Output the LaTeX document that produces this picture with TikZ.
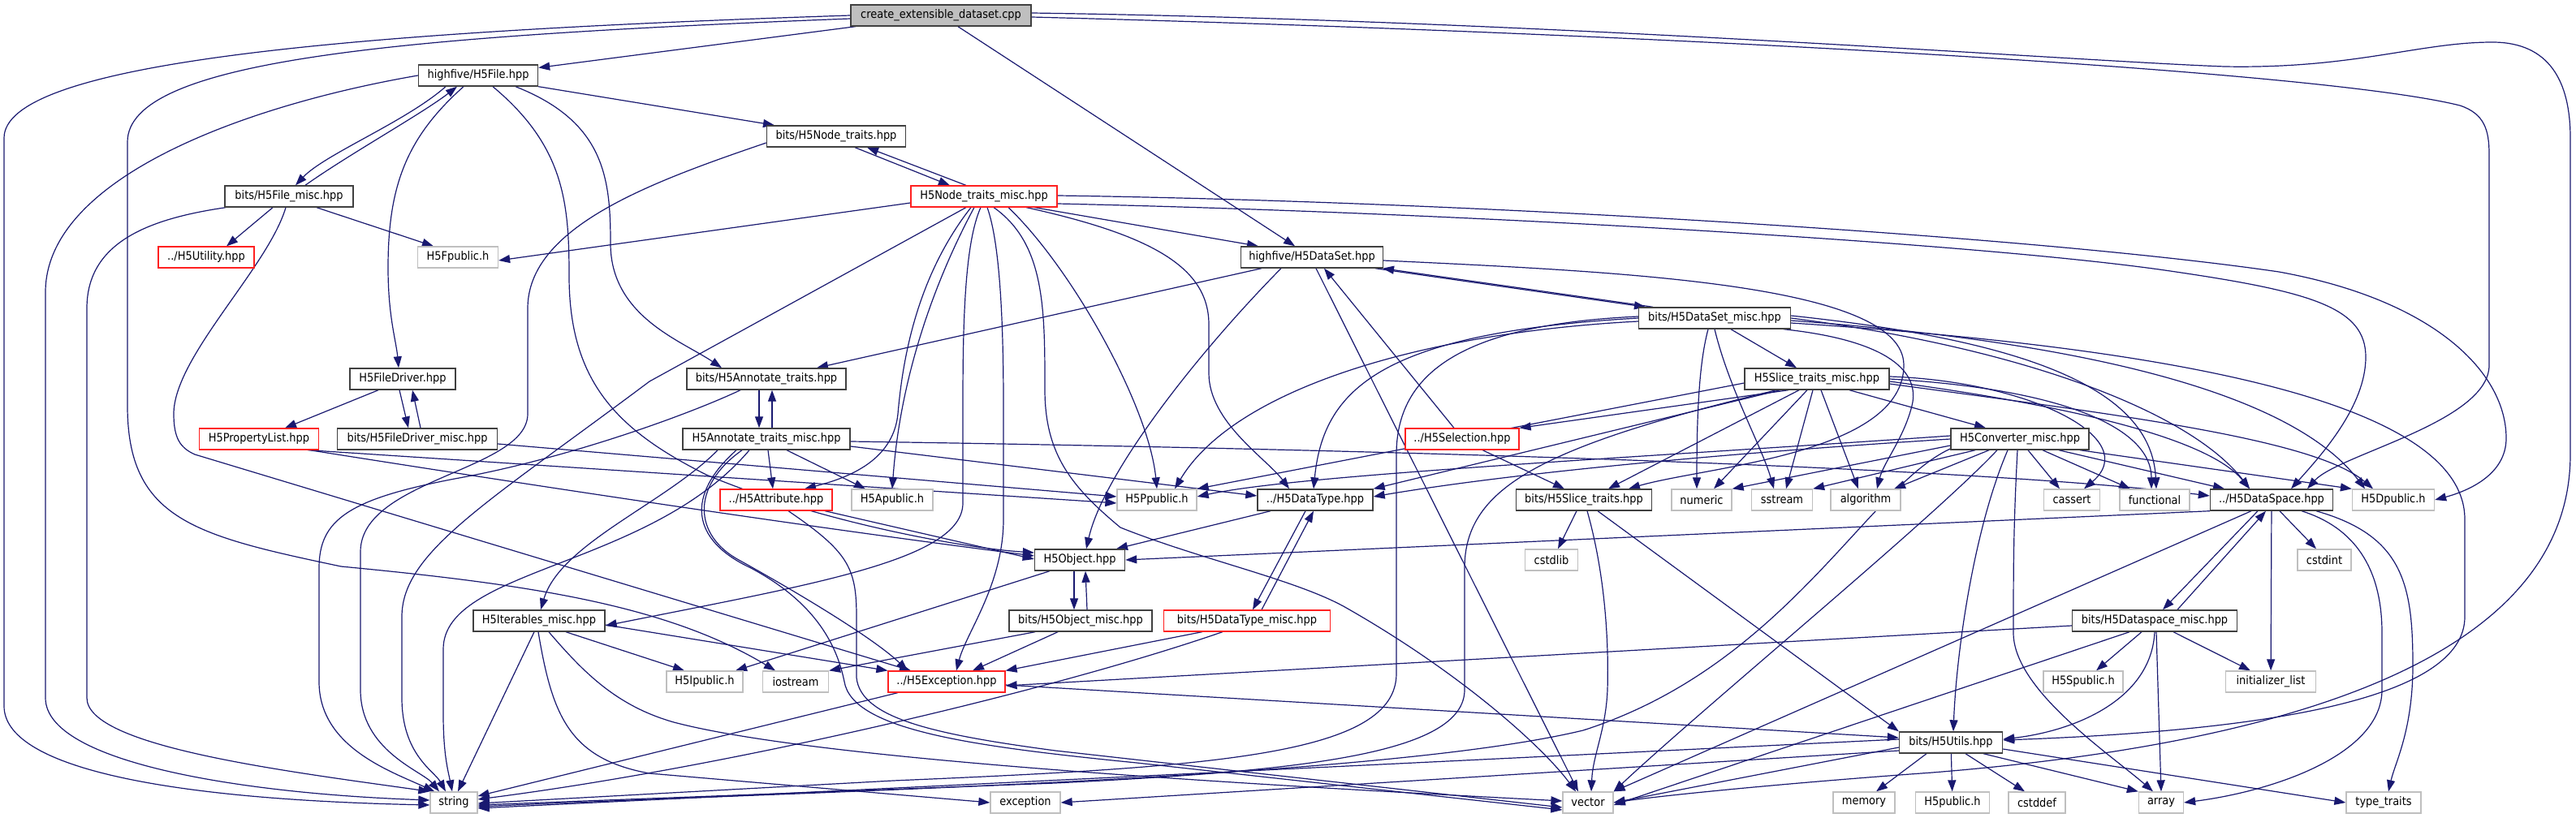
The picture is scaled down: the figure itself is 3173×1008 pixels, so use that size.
\documentclass[tikz,border=0pt]{standalone}
\usepackage{fontspec}
\setmainfont{DejaVu Sans}[FakeStretch=0.9]
\usetikzlibrary{arrows.meta,backgrounds}
\definecolor{edgec}{HTML}{191970}
\definecolor{gtf}{HTML}{404040}
\definecolor{gsf}{HTML}{BFBFBF}
\definecolor{redb}{HTML}{FF2020}
\newcommand{\nodefont}{\fontsize{14.4pt}{17pt}\selectfont}
\tikzset{
 nb/.style={draw=gtf, line width=1.4pt, fill=white, minimum height=26pt, inner sep=0pt, font=\nodefont, text=black},
 nr/.style={nb, draw=redb, line width=1.2pt},
 ng/.style={nb, draw=gsf, line width=1.3pt},
 nroot/.style={nb, fill=gsf},
 edg/.style={draw=edgec, line width=1.2pt, -{Triangle[length=14pt,width=10pt]}},
}
\begin{document}
\begin{tikzpicture}[x=1pt,y=-1pt]
\useasboundingbox (0,0) rectangle (3173,1008);
% nodes
\node[nroot, minimum width=222pt] (root) at (1159,19) {create\_extensible\_dataset.cpp};
\node[nb, minimum width=147pt] (file) at (589,93) {highfive/H5File.hpp};
\node[nb, minimum width=171pt] (nodetr) at (1030,168) {bits/H5Node\_traits.hpp};
\node[nb, minimum width=158pt] (filemisc) at (356,242) {bits/H5File\_misc.hpp};
\node[nr, minimum width=180pt] (nodemisc) at (1212,242) {H5Node\_traits\_misc.hpp};
\node[nr, minimum width=118pt] (util) at (254,317) {../H5Utility.hpp};
\node[ng, minimum width=99pt] (fpub) at (564,317) {H5Fpublic.h};
\node[nb, minimum width=175pt] (dataset) at (1616,317) {highfive/H5DataSet.hpp};
\node[nb, minimum width=187pt] (dsmisc) at (2112,392) {bits/H5DataSet\_misc.hpp};
\node[nb, minimum width=130pt] (fdriver) at (496,467) {H5FileDriver.hpp};
\node[nb, minimum width=196pt] (annot) at (944,467) {bits/H5Annotate\_traits.hpp};
\node[nb, minimum width=178pt] (slicemisc) at (2238,467) {H5Slice\_traits\_misc.hpp};
\node[nr, minimum width=147pt] (plist) at (319,541) {H5PropertyList.hpp};
\node[nb, minimum width=197pt] (fdmisc) at (514,541) {bits/H5FileDriver\_misc.hpp};
\node[nb, minimum width=206pt] (annotmisc) at (944,541) {H5Annotate\_traits\_misc.hpp};
\node[nr, minimum width=140pt] (selection) at (1801,541) {../H5Selection.hpp};
\node[nb, minimum width=170pt] (conv) at (2488,541) {H5Converter\_misc.hpp};
\node[nr, minimum width=138pt] (attr) at (956,616) {../H5Attribute.hpp};
\node[ng, minimum width=100pt] (apub) at (1099,616) {H5Apublic.h};
\node[ng, minimum width=98pt] (ppub) at (1425,616) {H5Ppublic.h};
\node[nb, minimum width=142pt] (dtype) at (1620,616) {../H5DataType.hpp};
\node[nb, minimum width=167pt] (slice) at (1951,616) {bits/H5Slice\_traits.hpp};
\node[ng, minimum width=74pt] (numeric) at (2096,616) {numeric};
\node[ng, minimum width=75pt] (sstream) at (2195,616) {sstream};
\node[ng, minimum width=86pt] (algorithm) at (2298,616) {algorithm};
\node[ng, minimum width=69pt] (cassert) at (2552,616) {cassert};
\node[ng, minimum width=86pt] (functional) at (2654,616) {functional};
\node[nb, minimum width=151pt] (dspace) at (2798,616) {../H5DataSpace.hpp};
\node[ng, minimum width=101pt] (dpub) at (2948,616) {H5Dpublic.h};
\node[nb, minimum width=111pt] (object) at (1330,690) {H5Object.hpp};
\node[ng, minimum width=65pt] (cstdlib) at (1911,690) {cstdlib};
\node[ng, minimum width=66pt] (cstdint) at (2863,690) {cstdint};
\node[nb, minimum width=162pt] (iter) at (664,765) {H5Iterables\_misc.hpp};
\node[nb, minimum width=176pt] (objmisc) at (1331,765) {bits/H5Object\_misc.hpp};
\node[nr, minimum width=205pt] (dtmisc) at (1536,765) {bits/H5DataType\_misc.hpp};
\node[nb, minimum width=203pt] (spmisc) at (2654,765) {bits/H5Dataspace\_misc.hpp};
\node[ng, minimum width=94pt] (ipub) at (868,840) {H5Ipublic.h};
\node[ng, minimum width=81pt] (iostream) at (980,840) {iostream};
\node[nr, minimum width=144pt] (exc) at (1166,840) {../H5Exception.hpp};
\node[ng, minimum width=98pt] (spub) at (2566,840) {H5Spublic.h};
\node[ng, minimum width=111pt] (initlist) at (2797,840) {initializer\_list};
\node[nb, minimum width=127pt] (utils) at (2403,915) {bits/H5Utils.hpp};
\node[ng, minimum width=58pt] (string) at (559,989) {string};
\node[ng, minimum width=86pt] (exception) at (1263,989) {exception};
\node[ng, minimum width=62pt] (vector) at (1956,989) {vector};
\node[ng, minimum width=76pt] (memory) at (2296,989) {memory};
\node[ng, minimum width=91pt] (h5pub) at (2405,989) {H5public.h};
\node[ng, minimum width=70pt] (cstddef) at (2509,989) {cstddef};
\node[ng, minimum width=55pt] (array) at (2662,989) {array};
\node[ng, minimum width=92pt] (typetraits) at (2936,989) {type\_traits};

\begin{scope}[on background layer]
\fill[white] (0,0) rectangle (3173,1008);
% root
\draw[edg] (root) -- (file);
\draw[edg] (root) -- (dataset);
\draw[edg] (root.west) .. controls (400,40) and (5,80) .. (5,170) -- (5,870) .. controls (5,945) and (200,985) .. ([yshift=-3]string.west);
\draw[edg] ([yshift=-4]root.west) .. controls (480,45) and (157,75) .. (157,175) -- (157,500) .. controls (157,640) and (240,660) .. (420,698) .. controls (650,720) and (820,745) .. ([xshift=-25]iostream.north);
\draw[edg] ([yshift=-2]root.east) .. controls (2000,40) and (2850,85) .. (3030,130) .. controls (3060,140) and (3066,160) .. (3066,190) -- (3066,450) .. controls (3066,520) and (2880,560) .. ([xshift=44]dspace.north);
\draw[edg] ([yshift=3]root.east) .. controls (1900,25) and (2550,75) .. (2740,82) .. controls (2900,85) and (2980,52) .. (3070,52) .. controls (3140,52) and (3166,100) .. (3166,170) -- (3166,560) .. controls (3166,780) and (2900,910) .. (2380,952) .. controls (2200,965) and (2050,980) .. (vector.east);
% file
\draw[edg] ([xshift=-40]file.south) .. controls (500,150) and (400,190) .. ([xshift=8]filemisc.north);
\draw[edg] ([xshift=20]filemisc.north) .. controls (430,190) and (520,140) .. ([xshift=-26]file.south);
\draw[edg] (file.south east) -- ([xshift=-76]nodetr.north);
\draw[edg] ([xshift=46]file.south) .. controls (745,150) and (752,220) .. (752,300) .. controls (752,390) and (840,420) .. ([xshift=-55]annot.north);
\draw[edg] ([xshift=-18]file.south) .. controls (500,170) and (478,230) .. (478,330) .. controls (478,390) and (488,420) .. ([xshift=-5]fdriver.north);
\draw[edg] ([xshift=18]file.south) .. controls (695,180) and (701,250) .. (701,340) .. controls (701,470) and (760,530) .. (870,585) .. controls (1000,640) and (1180,675) .. ([yshift=9]object.west);
\draw[edg] (file.west) .. controls (300,130) and (56,220) .. (56,360) -- (56,860) .. controls (56,940) and (300,978) .. ([yshift=3]string.west);
% filemisc
\draw[edg] ([xshift=-78]filemisc.south) .. controls (180,270) and (107,300) .. (107,380) -- (107,860) .. controls (107,920) and (350,950) .. (string.north west);
\draw[edg] ([xshift=-20]filemisc.south) -- ([xshift=25]util.north);
\draw[edg] ([xshift=34]filemisc.south) -- ([xshift=-30]fpub.north);
\draw[edg] ([xshift=-4]filemisc.south) .. controls (330,330) and (214,440) .. (214,510) .. controls (214,540) and (222,552) .. (240,560) -- ([xshift=-44]exc.north);
% nodetr
\draw[edg] ([xshift=23]nodetr.south) -- ([xshift=-42]nodemisc.north);
\draw[edg] ([xshift=-22]nodemisc.north) -- ([xshift=38]nodetr.south);
\draw[edg] ([yshift=-8]nodetr.west) .. controls (800,225) and (650,280) .. (650,380) -- (650,510) .. controls (650,580) and (444,590) .. (444,680) -- (444,850) .. controls (444,925) and (520,950) .. ([xshift=-18]string.north);
% nodemisc
\draw[edg] ([yshift=-8]nodemisc.west) -- ([yshift=-4]fpub.east);
\draw[edg] ([xshift=62]nodemisc.south) -- ([xshift=-66]dataset.north);
\draw[edg] ([yshift=1]nodemisc.east) .. controls (1800,248) and (2500,290) .. (2807,335) .. controls (3000,370) and (3087,460) .. (3087,540) .. controls (3087,585) and (3040,605) .. (dpub.east);
\draw[edg] ([yshift=-9]nodemisc.east) .. controls (1800,262) and (2450,300) .. (2680,335) .. controls (2850,360) and (2914,380) .. (2914,440) .. controls (2914,500) and (2860,560) .. ([xshift=24]dspace.north);
\draw[edg] ([xshift=52]nodemisc.south) .. controls (1420,290) and (1489,330) .. (1489,400) -- (1489,460) .. controls (1489,520) and (1560,565) .. ([xshift=-32]dtype.north);
\draw[edg] ([xshift=30]nodemisc.south) .. controls (1320,330) and (1415,500) .. (ppub.north);
\draw[edg] ([xshift=12]nodemisc.south) .. controls (1287,300) and (1287,380) .. (1287,480) .. controls (1287,560) and (1320,600) .. (1380,650) .. controls (1480,690) and (1600,715) .. (1660,750) .. controls (1800,830) and (1900,920) .. ([xshift=-15]vector.north);
\draw[edg] ([xshift=4]nodemisc.south) .. controls (1232,300) and (1236,400) .. (1236,500) -- (1236,640) .. controls (1236,720) and (1190,780) .. ([xshift=12]exc.north);
\draw[edg] ([xshift=-4]nodemisc.south) .. controls (1188,300) and (1186,400) .. (1186,500) -- (1186,620) .. controls (1186,690) and (1000,720) .. ([yshift=-6]iter.east);
\draw[edg] ([xshift=-12]nodemisc.south) .. controls (1160,330) and (1110,450) .. (apub.north);
\draw[edg] ([xshift=-16]nodemisc.south) .. controls (1130,340) and (1112,440) .. (1106,510) .. controls (1100,570) and (1040,590) .. ([xshift=35]attr.north);
\draw[edg] ([xshift=-22]nodemisc.south) -- (800,470) .. controls (600,620) and (495,680) .. (495,760) -- (495,860) .. controls (495,930) and (535,950) .. ([xshift=-10]string.north);
% dataset
\draw[edg] ([xshift=-62]dataset.south) -- ([xshift=62]annot.north);
\draw[edg] ([xshift=-38]dataset.south) .. controls (1480,430) and (1360,580) .. ([xshift=8]object.north);
\draw[edg] ([xshift=5]dataset.south) -- ([xshift=-12]vector.north);
\draw[edg] ([xshift=78]dataset.south) -- ([xshift=-85]dsmisc.north);
\draw[edg] ([xshift=-76]dsmisc.north) -- ([xshift=87]dataset.south);
\draw[edg] ([yshift=-4]dataset.east) .. controls (2000,335) and (2345,350) .. (2345,450) .. controls (2345,560) and (2100,575) .. ([xshift=55]slice.north);
% dsmisc
\draw[edg] ([xshift=20]dsmisc.south) -- ([xshift=-25]slicemisc.north);
\draw[edg] ([xshift=-8]dsmisc.south) .. controls (2092,450) and (2090,520) .. ([xshift=-6]numeric.north);
\draw[edg] (dsmisc.south) .. controls (2130,480) and (2170,550) .. ([xshift=-10]sstream.north);
\draw[edg] ([xshift=85]dsmisc.south) .. controls (2330,420) and (2365,460) .. (2355,500) .. controls (2345,540) and (2320,570) .. ([xshift=14]algorithm.north);
\draw[edg] (dsmisc.west) .. controls (1700,410) and (1630,480) .. ([xshift=-2]dtype.north);
\draw[edg] ([yshift=-4]dsmisc.west) .. controls (1750,410) and (1520,480) .. ([xshift=22]ppub.north);
\draw[edg] ([yshift=2]dsmisc.west) .. controls (1800,400) and (1720,460) .. (1720,560) -- (1720,830) .. controls (1720,930) and (1500,945) .. (1100,962) -- ([yshift=-1]string.east);
\draw[edg] ([yshift=3]dsmisc.east) .. controls (2500,420) and (2650,480) .. ([xshift=2]functional.north);
\draw[edg] (dsmisc.east) .. controls (2500,430) and (2700,510) .. ([xshift=-27]dspace.north);
\draw[edg] ([yshift=-3]dsmisc.east) .. controls (2550,420) and (2820,480) .. ([xshift=-35]dpub.north);
\draw[edg] ([yshift=-6]dsmisc.east) .. controls (2700,430) and (3036,500) .. (3036,640) -- (3036,760) .. controls (3036,860) and (2800,900) .. ([yshift=3]utils.east);
% slicemisc
\draw[edg] ([yshift=-5]slicemisc.west) -- (ppub.north east);
\draw[edg] ([xshift=-45]slicemisc.south) -- (dtype.north east);
\draw[edg] ([xshift=-35]slicemisc.south) -- (selection.north east);
\draw[edg] ([xshift=-22]slicemisc.south) -- ([xshift=30]slice.north);
\draw[edg] ([xshift=-12]slicemisc.south) -- ([xshift=15]numeric.north);
\draw[edg] ([xshift=-5]slicemisc.south) -- ([xshift=5]sstream.north);
\draw[edg] ([xshift=5]slicemisc.south) -- ([xshift=-9]algorithm.north);
\draw[edg] ([xshift=40]slicemisc.south) -- ([xshift=-42]conv.north);
\draw[edg] ([yshift=3]slicemisc.east) .. controls (2500,470) and (2640,540) .. ([xshift=15]cassert.north);
\draw[edg] (slicemisc.east) .. controls (2550,480) and (2650,530) .. ([xshift=-4]functional.north);
\draw[edg] ([yshift=-3]slicemisc.east) .. controls (2550,500) and (2720,540) .. ([xshift=-27]dspace.north);
\draw[edg] ([yshift=-6]slicemisc.east) .. controls (2600,510) and (2850,540) .. ([xshift=-25]dpub.north);
\draw[edg] ([xshift=-50]slicemisc.south) .. controls (1900,550) and (1804,600) .. (1804,700) -- (1804,850) .. controls (1804,930) and (1600,950) .. (1300,965) -- ([yshift=-3]string.east);
% conv
\draw[edg] ([yshift=4]conv.west) .. controls (2000,565) and (1600,585) .. ([yshift=4]ppub.east);
\draw[edg] (conv.west) .. controls (2100,560) and (1850,585) .. ([yshift=4]dtype.east);
\draw[edg] ([yshift=-8]conv.west) -- (numeric.north east);
\draw[edg] ([xshift=-55]conv.south) -- (sstream.north east);
\draw[edg] ([xshift=-38]conv.south) -- ([xshift=35]algorithm.north);
\draw[edg] ([xshift=-28]conv.south) .. controls (2380,640) and (2100,870) .. (vector.north east);
\draw[edg] ([yshift=-12]conv.west) .. controls (2300,600) and (2200,820) .. (1950,900) .. controls (1700,960) and (1000,975) .. ([yshift=-5]string.east);
\draw[edg] ([xshift=-15]conv.south) .. controls (2432,650) and (2410,800) .. ([xshift=3]utils.north);
\draw[edg] ([xshift=-3]conv.south) .. controls (2480,650) and (2480,700) .. (2480,780) .. controls (2480,850) and (2600,930) .. ([xshift=-10]array.north);
\draw[edg] ([xshift=10]conv.south) -- ([xshift=-15]cassert.north);
\draw[edg] ([xshift=28]conv.south) -- ([xshift=-30]functional.north);
\draw[edg] ([xshift=48]conv.south) -- ([xshift=-58]dspace.north);
\draw[edg] ([xshift=74]conv.south) -- (dpub.north west);
% dspace
\draw[edg] (dspace.south west) -- (object.east);
\draw[edg] ([xshift=-25]dspace.south) -- (vector.north east);
\draw[edg] ([xshift=-17]dspace.south) -- ([xshift=10]spmisc.north);
\draw[edg] ([xshift=28]spmisc.north) -- ([xshift=-7]dspace.south);
\draw[edg] (dspace) -- (initlist);
\draw[edg] ([xshift=10]dspace.south) -- ([xshift=-10]cstdint.north);
\draw[edg] ([xshift=37]dspace.south) .. controls (2900,650) and (2934,700) .. (2934,780) -- (2934,850) .. controls (2934,930) and (2800,975) .. (array.east);
\draw[edg] ([xshift=55]dspace.south) .. controls (2960,660) and (2972,720) .. (2972,820) .. controls (2972,900) and (2950,940) .. ([xshift=6]typetraits.north);
% spmisc
\draw[edg] ([yshift=-6]spmisc.west) -- ([yshift=-5]exc.east);
\draw[edg] ([xshift=-31]spmisc.south) -- ([yshift=-3]vector.east);
\draw[edg] ([xshift=-16]spmisc.south) -- ([xshift=16]spub.north);
\draw[edg] (spmisc.south) .. controls (2650,860) and (2560,900) .. ([yshift=4]utils.east);
\draw[edg] ([xshift=2]spmisc.south) -- (array.north);
\draw[edg] ([xshift=23]spmisc.south) -- ([xshift=-25]initlist.north);
% utils
\draw[edg] (utils) -- (h5pub);
\draw[edg] ([xshift=18]utils.south) -- ([xshift=-15]cstddef.north);
\draw[edg] ([xshift=40]utils.south) -- (array.north west);
\draw[edg] ([yshift=-8]utils.east) -- (typetraits.west);
\draw[edg] ([xshift=-30]utils.south) -- ([xshift=15]memory.north);
\draw[edg] ([yshift=-6]utils.west) -- (vector.east);
\draw[edg] ([yshift=4]utils.west) -- ([yshift=-7]string.east);
\draw[edg] ([yshift=-10]utils.west) -- (exception.east);
% exc
\draw[edg] ([xshift=-60]exc.south) -- ([yshift=8]string.east);
\draw[edg] ([yshift=-4]exc.east) -- ([yshift=6]utils.west);
% dtype / dtmisc
\draw[edg] ([xshift=-12]dtype.south) -- ([xshift=7]dtmisc.north);
\draw[edg] ([xshift=18]dtmisc.north) -- ([xshift=-2]dtype.south);
\draw[edg] ([xshift=-55]dtmisc.south) -- (exc.north east);
\draw[edg] ([xshift=-30]dtmisc.south) .. controls (1300,850) and (900,945) .. ([yshift=4]string.east);
\draw[edg] ([xshift=-55]dtype.south) -- ([xshift=45]object.north);
% object
\draw[edg] ([xshift=-7]object.south) -- ([xshift=-8]objmisc.north);
\draw[edg] ([xshift=8]objmisc.north) -- ([xshift=7]object.south);
\draw[edg] ([xshift=-37]object.south) -- ([xshift=38]ipub.north);
\draw[edg] ([xshift=-28]objmisc.south) -- ([xshift=32]exc.north);
\draw[edg] ([xshift=-56]objmisc.south) -- (iostream.north east);
% attr
\draw[edg] ([xshift=60]attr.south) -- ([yshift=1]object.west);
\draw[edg] ([xshift=15]attr.south) .. controls (1045,680) and (1055,700) .. (1055,760) -- (1055,835) .. controls (1060,885) and (1150,905) .. (1300,925) -- ([yshift=-6]vector.west);
% selection
\draw[edg] ([xshift=-10]selection.north) -- ([xshift=15]dataset.south);
\draw[edg] ([xshift=25]selection.south) -- ([xshift=-24]slice.north);
% slice
\draw[edg] ([xshift=-9]slice.south) -- ([xshift=8]cstdlib.north);
\draw[edg] ([xshift=4]slice.south) .. controls (1975,700) and (1982,780) .. (1980,850) .. controls (1978,900) and (1962,930) .. ([xshift=4]vector.north);
\draw[edg] ([xshift=17]slice.south) -- (utils.north west);
% iter
\draw[edg] ([yshift=-5]iter.east) -- (exc.north west);
\draw[edg] ([xshift=33]iter.south) -- ([xshift=-25]ipub.north);
\draw[edg] ([xshift=-6]iter.south) -- ([xshift=5]string.north);
\draw[edg] ([xshift=-1]iter.south) .. controls (680,880) and (700,935) .. (800,953) -- (exception.west);
\draw[edg] ([xshift=12]iter.south) .. controls (720,830) and (760,870) .. (830,890) .. controls (1000,935) and (1500,965) .. ([yshift=2]vector.west);
% annot
\draw[edg] ([xshift=-9]annot.south) -- ([xshift=-9]annotmisc.north);
\draw[edg] ([xshift=7]annotmisc.north) -- ([xshift=7]annot.south);
\draw[edg] ([xshift=-32]annot.south) .. controls (850,510) and (700,565) .. (560,590) .. controls (430,615) and (393,640) .. (393,700) -- (393,840) .. controls (393,920) and (480,950) .. ([xshift=6]string.north west);
% annotmisc
\draw[edg] ([xshift=2]annotmisc.south) -- ([xshift=-4]attr.north);
\draw[edg] ([xshift=25]annotmisc.south) -- ([xshift=-33]apub.north);
\draw[edg] ([yshift=-9]annotmisc.east) -- ([yshift=5]dtype.west);
\draw[edg] ([yshift=-3]annotmisc.east) .. controls (1600,552) and (2400,572) .. ([yshift=5]dspace.west);
\draw[edg] ([xshift=-30]annotmisc.south) .. controls (850,600) and (855,660) .. (910,690) .. controls (1000,740) and (1080,790) .. ([xshift=-48]exc.north);
\draw[edg] ([xshift=-37]annotmisc.south) .. controls (845,610) and (850,665) .. (925,700) .. controls (1000,740) and (1030,790) .. (1040,840) .. controls (1050,900) and (1200,920) .. (1400,940) -- ([yshift=-9]vector.west);
\draw[edg] ([xshift=-21]annotmisc.south) .. controls (800,700) and (546,700) .. (546,800) -- (546,880) .. controls (546,930) and (552,950) .. ([xshift=-2]string.north);
\draw[edg] ([xshift=-60]annotmisc.south) .. controls (820,620) and (690,670) .. ([xshift=2]iter.north);
% plist, fdmisc, fdriver
\draw[edg] ([xshift=60]plist.south) -- ([yshift=-4]ppub.west);
\draw[edg] ([xshift=62]plist.south) .. controls (700,605) and (1000,650) .. ([yshift=5]object.west);
\draw[edg] ([yshift=-6]fdmisc.east) -- ([yshift=4]ppub.west);
\draw[edg] ([xshift=4]fdmisc.north) -- ([xshift=12]fdriver.south);
\draw[edg] ([xshift=-30]fdriver.south) -- ([xshift=32]plist.north);
\draw[edg] ([xshift=-4]fdriver.south) -- ([xshift=-11]fdmisc.north);
\end{scope}
\end{tikzpicture}
\end{document}
